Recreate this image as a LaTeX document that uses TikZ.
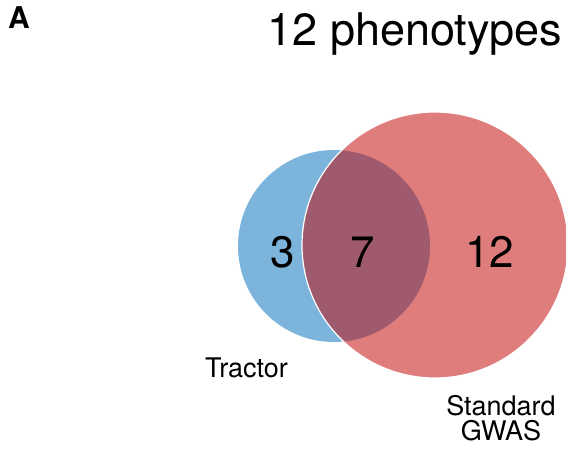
\documentclass[tikz,border=0pt]{standalone}
\usepackage{fontspec}
\setmainfont{TeX Gyre Heros}
\usetikzlibrary{positioning}
\definecolor{tractorblue}{HTML}{7DB4DB}
\definecolor{gwasred}{HTML}{DF7C7C}
\definecolor{overlapmauve}{HTML}{9F5A6E}
\tikzset{
 countlabel/.style={font=\fontsize{44}{44}\selectfont,anchor=base,inner sep=0pt},
 setlabel/.style={font=\fontsize{27}{25}\selectfont,anchor=base,align=center,inner sep=0pt},
}
\begin{document}
\begin{tikzpicture}[x=1pt,y=-1pt]
\useasboundingbox(0,0)rectangle(566,451);
%circles
\coordinate(tractorc)at(334,246);
\coordinate(gwasc)at(435,245);
\fill[tractorblue](tractorc)circle[radius=96];
\fill[gwasred](gwasc)circle[radius=133];
\begin{scope}
\clip(tractorc)circle[radius=96];
\fill[overlapmauve](gwasc)circle[radius=133];
\end{scope}
\draw[white,line width=1.2pt](gwasc)circle[radius=133];
%labels
\node[font=\fontsize{30}{30}\selectfont\bfseries,anchor=base west,inner sep=0pt](panel)at(8,28){A};
\node[font=\fontsize{45}{45}\selectfont,anchor=base,inner sep=0pt](title)at(415,45){12 phenotypes};
\node[countlabel](onlytractor)at(283,267){3};
\node[countlabel](both)at(362.5,267){7};
\node[countlabel](onlygwas)at(489.5,267){12};
\node[setlabel](tractor)at(246.5,377){Tractor};
\node[setlabel](gwas)at(501,440){Standard\\GWAS};
\end{tikzpicture}
\end{document}
